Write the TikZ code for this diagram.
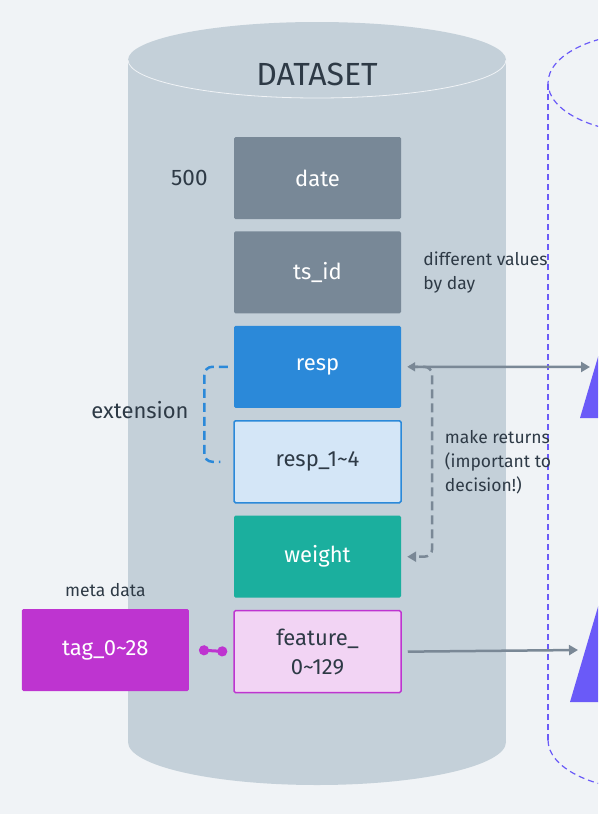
\documentclass[tikz,border=0pt]{standalone}
\usepackage{fontspec}
\setmainfont{Fira Sans}
\usetikzlibrary{positioning,arrows.meta}
\definecolor{bg}{HTML}{F0F3F6}
\definecolor{cyl}{HTML}{C4D0D9}
\definecolor{slate}{HTML}{788897}
\definecolor{ink}{HTML}{2E3A46}
\definecolor{respblue}{HTML}{2B89D9}
\definecolor{lightblue}{HTML}{D4E6F7}
\definecolor{teal}{HTML}{1BAF9E}
\definecolor{pink}{HTML}{F2D4F4}
\definecolor{magenta}{HTML}{BE34D0}
\definecolor{violet}{HTML}{6A5AF8}
\definecolor{wire}{HTML}{7A8896}

\begin{document}
\begin{tikzpicture}[x=1pt, y=-1pt,
      node distance=12pt,
      field/.style={rectangle, rounded corners=1.5pt, minimum width=167pt, minimum height=82pt,
        inner sep=0pt, font=\fontsize{22}{29}\selectfont, text=white, align=center},
      note/.style={font=\fontsize{17.5}{24}\selectfont, text=ink, align=left, inner sep=0pt},
      link/.style={draw=wire, line width=2.5pt},
      ext/.style={draw=respblue, line width=2.5pt, dash pattern=on 9pt off 5pt, rounded corners=8pt},
      ret/.style={draw=wire, line width=2.5pt, dash pattern=on 9pt off 5pt, rounded corners=8pt,
        -{Triangle[length=9pt, width=10pt]}},
      store/.style={draw=violet, line width=1.2pt, dash pattern=on 6pt off 4pt}
    ]
    \useasboundingbox (0,0) rectangle (598,814);
    \clip (0,0) rectangle (598,814);
    \fill[bg] (0,0) rectangle (598,814);

    \fill[cyl] (128,60) rectangle (506,742);
    \fill[cyl] (317,742) ellipse [x radius=189pt, y radius=43pt];
    \fill[cyl] (317,60) ellipse [x radius=189pt, y radius=38pt];
    \draw[white!75!cyl, line width=0.8pt] (128,60) arc [start angle=180, end angle=360, x radius=189pt, y radius=38pt];
    \node[font=\fontsize{32}{36}\selectfont, text=ink] (title) at (317,74) {DATASET};

    \draw[store] (548,740) -- (548,83);
    \draw[store] (548,740) arc [start angle=180, end angle=360, x radius=100pt, y radius=50pt];
    \draw[store] (648,83) ellipse [x radius=100pt, y radius=50pt];
    \fill[violet] (580,418) -- (603,340) -- (640,418) -- cycle;
    \fill[violet] (570,702) -- (600,600) -- (640,702) -- cycle;

    \node[field, fill=slate] (date) at (317.5,178) {date};
    \node[field, fill=slate, below=of date] (tsid) {ts\_id};
    \node[field, fill=respblue, below=of tsid] (resp) {resp};
    \node[field, fill=lightblue, draw=respblue, line width=1.5pt, text=ink, below=of resp] (resp1) {resp\_1\textasciitilde4};
    \node[field, fill=teal, below=of resp1] (weight) {weight};
    \node[field, fill=pink, draw=magenta, line width=1.5pt, text=ink, below=of weight] (feature) {feature\_\\0\textasciitilde129};
    \node[field, fill=magenta, anchor=east] (tag) at (189,650) {tag\_0\textasciitilde28};

    \node[note, font=\fontsize{22.5}{24}\selectfont, left=26pt of date] (rows) {500};
    \node[note, right=22pt of tsid] (daily) {different values\\by day};
    \node[note, font=\fontsize{22}{24}\selectfont] (extlabel) at (140,410) {extension};
    \node[note, right=43pt of resp1] (returns) {make returns\\(important to\\decision!)};
    \node[note, above=12pt of tag] (meta) {meta data};

    \coordinate (in1) at (590,367);
    \coordinate (in2) at (578,650);

    \draw[ret] ([xshift=8pt]resp.east) -| ([xshift=31pt]weight.east) -- ([xshift=6pt]weight.east);
    \draw[link, {Triangle[length=8pt, width=9pt]}-{Triangle[length=9pt, width=10pt]}] ([xshift=6pt]resp.east) -- (in1);
    \draw[link, -{Triangle[length=9pt, width=10pt]}] ([xshift=6pt]feature.east) -- (in2);
    \draw[ext] ([xshift=-6pt]resp.west) -| ([xshift=-29pt]resp1.west) -- ([xshift=-13pt]resp1.west);
    \draw[magenta, line width=3pt, {Circle[length=10pt]}-{Circle[length=10pt]}] ([xshift=10pt]tag.east) -- ([xshift=-6pt]feature.west);
\end{tikzpicture}
\end{document}
